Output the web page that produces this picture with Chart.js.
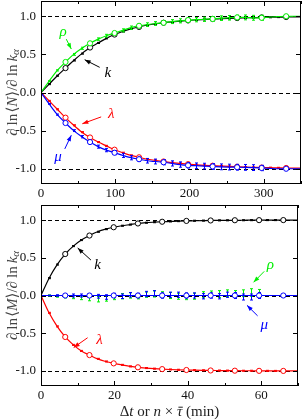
<!DOCTYPE html>
<html lang="en">
<head>
<meta charset="UTF-8">
<title>sensitivity</title>
<style>
  body { margin: 0; background: #fff; }
  #wrap { position: relative; width: 303px; height: 420px; }
  canvas { position: absolute; left: 0; }
</style>
</head>
<body>
<div id="wrap">
  <canvas id="topChart" width="303" height="200" style="top:0"></canvas>
  <canvas id="botChart" width="303" height="220" style="top:200px"></canvas>
</div>
<script src="https://cdn.jsdelivr.net/npm/chart.js"></script>
<script>
// ---- top panel: d ln<N> / d ln k_a  vs  Δt (min)
const tTop = [0, 11, 22, 33, 44, 55, 66, 77, 88, 99, 110, 121, 132, 143, 154, 165,
              176, 187, 198, 209, 220, 231, 242, 253, 264, 275, 286, 297, 308, 319, 330, 350];
const kTop = [0, 0.11, 0.22, 0.32, 0.42, 0.51, 0.59, 0.65, 0.71, 0.76, 0.80, 0.835, 0.86, 0.885, 0.90, 0.915,
              0.925, 0.935, 0.945, 0.952, 0.958, 0.964, 0.968, 0.972, 0.976, 0.979, 0.982, 0.985, 0.987, 0.989, 0.99, 0.993];
const rhoTop = [0, 0.15, 0.29, 0.40, 0.50, 0.58, 0.645, 0.70, 0.745, 0.78, 0.815, 0.85, 0.875, 0.89, 0.905, 0.915,
                0.93, 0.94, 0.95, 0.955, 0.96, 0.965, 0.975, 0.98, 0.985, 0.985, 0.98, 0.98, 0.99, 0.995, 1.0, 1.0];
const rhoTopErr = [0, 0.005, 0.008, 0.01, 0.012, 0.014, 0.015, 0.016, 0.018, 0.02, 0.02, 0.022, 0.022, 0.024, 0.025, 0.025,
                   0.026, 0.027, 0.027, 0.028, 0.028, 0.03, 0.03, 0.03, 0.03, 0.032, 0.032, 0.033, 0, 0, 0, 0];
const lamTop = [0, -0.11, -0.22, -0.33, -0.43, -0.52, -0.59, -0.65, -0.70, -0.75, -0.79, -0.825, -0.85, -0.875, -0.89, -0.905,
                -0.92, -0.93, -0.94, -0.948, -0.955, -0.96, -0.965, -0.97, -0.974, -0.978, -0.981, -0.984, -0.986, -0.988, -0.99, -0.993];
const muTop = [0, -0.15, -0.29, -0.40, -0.50, -0.58, -0.65, -0.71, -0.755, -0.79, -0.825, -0.855, -0.875, -0.895, -0.905, -0.915,
               -0.93, -0.945, -0.955, -0.96, -0.965, -0.97, -0.975, -0.978, -0.98, -0.982, -0.985, -0.99, -0.995, -1.0, -1.0, -1.0];
const muTopErr = [0, 0.005, 0.008, 0.01, 0.012, 0.015, 0.017, 0.02, 0.022, 0.025, 0.027, 0.028, 0.03, 0.03, 0.032, 0.033,
                  0.034, 0.035, 0.035, 0.036, 0.037, 0.037, 0.038, 0.038, 0.038, 0.038, 0.038, 0.035, 0, 0, 0, 0];

// ---- bottom panel: d ln<M> / d ln k_a  vs  n x tau (min)
const tBot = [0, 2.2, 4.4, 6.6, 8.8, 11, 13.2, 15.4, 17.6, 19.8, 22, 24.2, 26.4, 28.6, 30.8, 33,
              35.2, 37.4, 39.6, 41.8, 44, 46.2, 48.4, 50.6, 52.8, 55, 57.2, 59.4, 61.6, 63.8, 66, 70];
const kBot = [0, 0.23, 0.41, 0.55, 0.655, 0.735, 0.795, 0.845, 0.88, 0.905, 0.925, 0.94, 0.955, 0.965, 0.972, 0.978,
              0.982, 0.986, 0.989, 0.991, 0.993, 0.995, 0.996, 0.997, 0.998, 0.998, 0.999, 0.999, 1, 1, 1, 1];
const lamBot = [0, -0.23, -0.41, -0.55, -0.655, -0.735, -0.79, -0.84, -0.875, -0.90, -0.92, -0.94, -0.952, -0.962, -0.97, -0.976,
                -0.981, -0.985, -0.988, -0.99, -0.992, -0.994, -0.995, -0.996, -0.997, -0.998, -0.998, -0.999, -0.999, -1, -1, -1];
const rhoBot = [0, 0, -0.01, -0.015, -0.02, -0.03, -0.04, -0.05, -0.04, -0.02, -0.01, 0, -0.01, 0.01, 0.02, 0.01,
                0, -0.01, -0.015, -0.01, 0.01, 0.02, 0.02, 0.03, 0.02, 0.03, 0.04, 0.03, 0, 0, 0];
const rhoBotErr = [0, 0.008, 0.012, 0.018, 0.022, 0.025, 0.03, 0.035, 0.035, 0.035, 0.035, 0.035, 0.035, 0.035, 0.04, 0.04,
                   0.04, 0.04, 0.04, 0.04, 0.04, 0.04, 0.045, 0.045, 0.045, 0.045, 0.05, 0.05, 0, 0, 0];
const muBot = [0, 0, 0, 0, 0, 0, 0, -0.01, -0.02, 0, -0.01, 0.01, 0, 0.02, 0.03, 0,
               0.01, 0.01, 0, 0, -0.01, 0, -0.01, 0.01, 0, -0.02, -0.02, 0, 0, 0, 0];
const muBotErr = [0, 0.005, 0.01, 0.015, 0.02, 0.02, 0.025, 0.025, 0.03, 0.03, 0.03, 0.03, 0.03, 0.035, 0.035, 0.035,
                  0.035, 0.035, 0.035, 0.035, 0.035, 0.035, 0.035, 0.035, 0.04, 0.04, 0.04, 0.04, 0, 0, 0];
const zeroT = [0, 70];
const zeroV = [0, 0];

const refLevels = [1, 0, -1];

const BLACK = '#000', RED = '#ff0000', GREEN = '#00ee00', BLUE = '#0000ff';
const SERIF = '"Liberation Serif", "DejaVu Serif", serif';

function pts(ts, vs) { return vs.map((v, i) => ({ x: ts[i], y: v })); }
const every3 = ctx => (ctx.dataIndex > 0 && ctx.dataIndex % 3 === 0 && ctx.dataIndex <= 30) ? 2.6 : 0;

function series(ts, vs, color, extra) {
  return Object.assign({
    data: pts(ts, vs), borderColor: color, borderWidth: 1.2,
    cubicInterpolationMode: 'monotone', pointRadius: every3,
    pointBackgroundColor: '#fff', pointBorderColor: color, pointBorderWidth: 1
  }, extra || {});
}

// error bars drawn under each dataset
const errorBars = {
  id: 'errorBars',
  beforeDatasetDraw(chart, args) {
    const ds = chart.data.datasets[args.index];
    if (!ds.errors && !ds.errConst) return;
    const x = chart.scales.x, y = chart.scales.y, c = chart.ctx;
    c.save();
    c.strokeStyle = ds.borderColor; c.lineWidth = 1;
    c.beginPath();
    ds.data.forEach((p, i) => {
      const e = ds.errors ? ds.errors[i] : (i > 0 && p.x <= x.max * 0.95 ? ds.errConst : 0);
      if (!e) return;
      const px = Math.round(x.getPixelForValue(p.x)) + 0.5;
      const y1 = y.getPixelForValue(p.y + e), y2 = y.getPixelForValue(p.y - e);
      c.moveTo(px, y1); c.lineTo(px, y2);
      c.moveTo(px - 1.5, y1); c.lineTo(px + 1.5, y1);
      c.moveTo(px - 1.5, y2); c.lineTo(px + 1.5, y2);
    });
    c.stroke();
    c.restore();
  }
};

// dashed reference lines at 1, 0, -1
const refLines = {
  id: 'refLines',
  beforeDatasetsDraw(chart) {
    const { ctx, chartArea: a, scales: { y } } = chart;
    ctx.save();
    ctx.strokeStyle = '#000'; ctx.lineWidth = 1; ctx.setLineDash([4, 3]);
    refLevels.forEach(v => {
      const py = Math.round(y.getPixelForValue(v)) + 0.5;
      ctx.beginPath(); ctx.moveTo(a.left, py); ctx.lineTo(a.right, py); ctx.stroke();
    });
    ctx.restore();
  }
};

// mixed roman / italic text, run = [text, italic, sizeScale, dy, overbar]
function drawRuns(ctx, runs, cx, cy, size) {
  const fonts = runs.map(r => (r[1] ? 'italic ' : '') + Math.round(size * (r[2] || 1)) + 'px ' + SERIF);
  let w = 0;
  runs.forEach((r, i) => { ctx.font = fonts[i]; w += ctx.measureText(r[0]).width; });
  let x = cx - w / 2;
  runs.forEach((r, i) => {
    ctx.font = fonts[i];
    const tw = ctx.measureText(r[0]).width;
    ctx.fillText(r[0], x, cy + (r[3] || 0));
    if (r[4]) {
      ctx.fillRect(x + 1.5, cy - size * 0.62, tw - 1, 1);
    }
    x += tw;
  });
}

// frame, inward ticks, titles, annotations
const decor = {
  id: 'decor',
  afterDraw(chart, args, o) {
    const { ctx, chartArea: a, scales: { x, y } } = chart;
    ctx.save();
    ctx.strokeStyle = '#000'; ctx.lineWidth = 1;
    ctx.strokeRect(a.left + 0.5, a.top + 0.5, a.right - a.left - 1, a.bottom - a.top - 1);
    ctx.beginPath();
    for (let v = 0; v <= x.max + 1e-9; v += o.xMinor) {
      const px = Math.round(x.getPixelForValue(v)) + 0.5;
      const len = Math.abs(v / o.xMajor - Math.round(v / o.xMajor)) < 1e-6 ? 5 : 3;
      ctx.moveTo(px, a.bottom); ctx.lineTo(px, a.bottom - len);
      ctx.moveTo(px, a.top); ctx.lineTo(px, a.top + len);
    }
    y.ticks.forEach(t => {
      const py = Math.round(y.getPixelForValue(t.value)) + 0.5;
      ctx.moveTo(a.left, py); ctx.lineTo(a.left + 5, py);
      ctx.moveTo(a.right, py); ctx.lineTo(a.right - 5, py);
    });
    ctx.stroke();

    // y title
    ctx.fillStyle = '#444';
    ctx.textBaseline = 'middle';
    ctx.save();
    ctx.translate(13, (a.top + a.bottom) / 2);
    ctx.rotate(-Math.PI / 2);
    drawRuns(ctx, o.yTitle, 0, 0, 15);
    ctx.restore();

    // x title
    if (o.xTitle) {
      ctx.textBaseline = 'alphabetic';
      ctx.fillStyle = '#222';
      drawRuns(ctx, o.xTitle, (a.left + a.right) / 2, 216, 15);
    }

    // curve labels with arrows
    o.notes.forEach(n => {
      ctx.fillStyle = n.color; ctx.strokeStyle = n.color;
      ctx.font = 'italic 15px ' + SERIF;
      ctx.textAlign = 'center'; ctx.textBaseline = 'middle';
      ctx.fillText(n.text, x.getPixelForValue(n.at[0]), y.getPixelForValue(n.at[1]));
      const x1 = x.getPixelForValue(n.from[0]), y1 = y.getPixelForValue(n.from[1]);
      const x2 = x.getPixelForValue(n.to[0]), y2 = y.getPixelForValue(n.to[1]);
      const ang = Math.atan2(y2 - y1, x2 - x1);
      ctx.lineWidth = 1;
      ctx.beginPath(); ctx.moveTo(x1, y1); ctx.lineTo(x2, y2); ctx.stroke();
      ctx.beginPath();
      ctx.moveTo(x2, y2);
      ctx.lineTo(x2 - 6 * Math.cos(ang) + 2.2 * Math.sin(ang), y2 - 6 * Math.sin(ang) - 2.2 * Math.cos(ang));
      ctx.lineTo(x2 - 6 * Math.cos(ang) - 2.2 * Math.sin(ang), y2 - 6 * Math.sin(ang) + 2.2 * Math.cos(ang));
      ctx.closePath(); ctx.fill();
      ctx.textAlign = 'start';
    });
    ctx.restore();
  }
};

const tickFont = { family: SERIF, size: 13 };

function makeOptions(xMax, xStep, xHeight, padTop, decorOpts) {
  return {
    responsive: false, animation: false, devicePixelRatio: 1,
    layout: { padding: { top: padTop, right: 2, left: 0, bottom: 0 } },
    plugins: { legend: { display: false }, tooltip: { enabled: false }, decor: decorOpts },
    scales: {
      x: {
        type: 'linear', min: 0, max: xMax,
        grid: { display: false, drawTicks: false }, border: { display: false },
        ticks: { stepSize: xStep, includeBounds: false, font: tickFont, color: '#111', padding: 2, maxRotation: 0 },
        afterFit(s) { s.height = xHeight; s.paddingLeft = 0; s.paddingRight = 0; }
      },
      y: {
        min: -1.2, max: 1.2,
        grid: { display: false, drawTicks: false }, border: { display: false },
        ticks: { stepSize: 0.5, includeBounds: false, font: tickFont, color: '#111', padding: 5,
                 callback: v => v.toFixed(1) },
        afterFit(s) { s.width = 41; s.paddingTop = 0; s.paddingBottom = 0; }
      }
    }
  };
}

const yTitleRuns = letter => [['\u2202', 1], ['\u2009ln\u200a', 0], ['\u27e8', 0], [letter, 1], ['\u27e9', 0], ['/', 0],
  ['\u2202', 1], ['\u2009ln\u2009', 0], ['k', 1], ['\u03b1', 1, 0.7, 3]];

new Chart(document.getElementById('topChart'), {
  type: 'line',
  data: {
    datasets: [
      series(tTop, muTop, BLUE, { errors: muTopErr }),
      series(tTop, rhoTop, GREEN, { errors: rhoTopErr }),
      series(tTop, lamTop, RED, { errConst: 0.007 }),
      series(tTop, kTop, BLACK, { errConst: 0.007 })
    ]
  },
  options: makeOptions(350, 100, 16, 1, {
    xMinor: 50, xMajor: 100,
    yTitle: yTitleRuns('N'),
    notes: [
      { text: '\u03c1', color: GREEN, at: [29.6, 0.79], from: [34, 0.70], to: [40.8, 0.57] },
      { text: 'k', color: BLACK, at: [90, 0.26], from: [79, 0.33], to: [58.8, 0.43] },
      { text: '\u03bb', color: RED, at: [94.6, -0.28], from: [81, -0.32], to: [55.6, -0.41] },
      { text: '\u03bc', color: BLUE, at: [22.9, -0.85], from: [32, -0.74], to: [40.8, -0.56] }
    ]
  }),
  plugins: [errorBars, refLines, decor]
});

new Chart(document.getElementById('botChart'), {
  type: 'line',
  data: {
    datasets: [
      series(tBot, muBot, BLUE, { errors: muBotErr, showLine: false }),
      series(zeroT, zeroV, BLUE, { pointRadius: 0 }),
      series(tBot, rhoBot, GREEN, { errors: rhoBotErr, showLine: false, pointRadius: 0 }),
      series(tBot, lamBot, RED, { errConst: 0.007 }),
      series(tBot, kBot, BLACK, { errConst: 0.007 })
    ]
  },
  options: makeOptions(70, 20, 34, 4, {
    xMinor: 10, xMajor: 20,
    yTitle: yTitleRuns('M'),
    xTitle: [['\u0394', 0], ['t', 1], [' or ', 0], ['n', 1], ['\u2005\u00d7\u2005', 0], ['\u03c4', 1, 1, 0, true], [' (min)', 0]],
    notes: [
      { text: 'k', color: BLACK, at: [15.4, 0.41], from: [13.6, 0.47], to: [10, 0.63] },
      { text: '\u03bb', color: RED, at: [15.9, -0.59], from: [12.7, -0.56], to: [8.9, -0.69] },
      { text: '\u03c1', color: GREEN, at: [62.5, 0.41], from: [60.8, 0.32], to: [57.9, 0.175] },
      { text: '\u03bc', color: BLUE, at: [60.8, -0.39], from: [59, -0.27], to: [56.1, -0.13] }
    ]
  }),
  plugins: [errorBars, refLines, decor]
});
</script>
</body>
</html>
